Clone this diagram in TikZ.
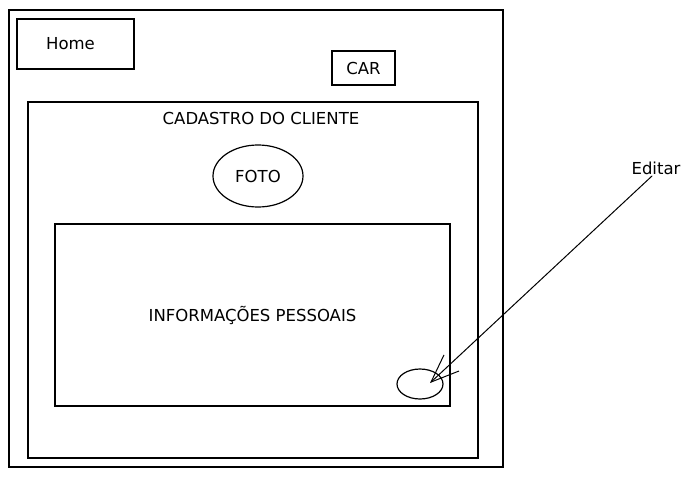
\documentclass[tikz,border=0pt]{standalone}
\usepackage{fontspec}
\setmainfont{DejaVu Sans}
\usetikzlibrary{positioning,arrows.meta,shapes.geometric}
\tikzset{>=latex}

\begin{document}
\begin{tikzpicture}[x=1pt, y=-1pt, text centered, line width=1.2pt,
    font=\fontsize{16.5}{19}\selectfont]
    \tikzset{%
      tela/.style={draw, inner sep=0pt},
      bola/.style={tela, ellipse}
      }
    \useasboundingbox (0,0) rectangle (694,477);

    \node [tela, minimum width=494pt, minimum height=457pt] (Tela) at (256,238.5) {};
    \node [tela, minimum width=117pt, minimum height=50pt] (Home) at (75.5,44) {\hspace*{-10pt}Home};
    \node [tela, minimum width=63pt, minimum height=34pt] (Car) at (363.5,68) {CAR};

    \node [tela, minimum width=450pt, minimum height=356pt] (Cadastro) at (253,280) {};
    \node (Titulo) at (261,118) {CADASTRO DO CLIENTE};
    \node [bola, minimum width=90pt, minimum height=62pt] (Foto) at (258,176) {FOTO};

    \node [tela, minimum width=395pt, minimum height=182pt] (Info) at (252.5,315) {INFORMAÇÕES PESSOAIS};
    \node [bola, minimum width=46pt, minimum height=30pt] (Botao) at (420,384) {};
    \coordinate (Ponta) at (430,383);

    \node [inner sep=1pt] (Editar) at (656,168) {Editar};
    \draw [-{Straight Barb[length=28pt, width=22pt]}, line width=1pt, line cap=round] (Editar.south) ++(-4,0) -- (Ponta);

  \end{tikzpicture}
\end{document}
